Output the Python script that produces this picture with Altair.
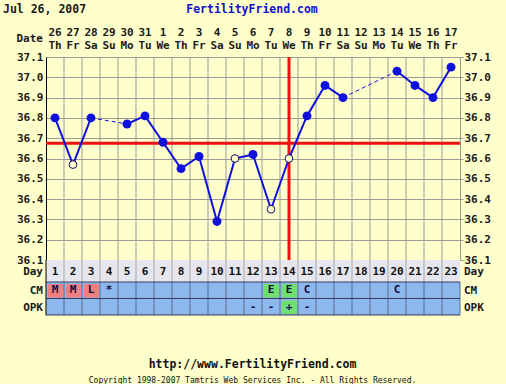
import altair as alt
import pandas as pd

# ---------------- data ----------------
days = list(range(1, 24))
dates = [26, 27, 28, 29, 30, 31, 1, 2, 3, 4, 5, 6, 7, 8, 9, 10, 11, 12, 13, 14, 15, 16, 17]
weekdays = ["Th", "Fr", "Sa", "Su", "Mo", "Tu", "We", "Th", "Fr", "Sa", "Su", "Mo",
            "Tu", "We", "Th", "Fr", "Sa", "Su", "Mo", "Tu", "We", "Th", "Fr"]
temps = [36.80, 36.57, 36.80, None, 36.77, 36.81, 36.68, 36.55, 36.61, 36.29, 36.60, 36.62,
         36.35, 36.60, 36.81, 36.96, 36.90, None, None, 37.03, 36.96, 36.90, 37.05]
open_days = [2, 11, 13, 14]
cm = ["M", "M", "L", "*", "", "", "", "", "", "", "", "", "E", "E", "C", "", "", "", "", "C", "", "", ""]
opk = ["", "", "", "", "", "", "", "", "", "", "", "-", "-", "+", "-", "", "", "", "", "", "", "", ""]
coverline = 36.675
ovulation_day = 14
y_ticks = [36.1, 36.2, 36.3, 36.4, 36.5, 36.6, 36.7, 36.8, 36.9, 37.0, 37.1]
row_names = ["Day", "CM", "OPK"]

# ---------------- styles ----------------
BG = "#FFFFCC"
BLUE = "#1010DD"
RED = "#EE1111"
FONT = "DejaVu Sans Mono"
FS = 11
W, H = 414, 203

x_lo, x_hi = days[0] - 0.5, days[-1] + 0.5
xscale = alt.Scale(domain=[x_lo, x_hi], nice=False, zero=False)
tscale = alt.Scale(domain=[y_ticks[0], y_ticks[-1]], nice=False, zero=False)
rscale = alt.Scale(domain=[0, 1, 3], range=[H, H + 22, H + 55], nice=False, zero=False)

left_axis = alt.Axis(orient="left", values=y_ticks, format=".1f", grid=True, gridColor="#9a9a9a",
                     gridWidth=1, gridOpacity=1, domain=True, domainColor="#000000", domainWidth=1,
                     ticks=False, labelPadding=3, labelFont=FONT, labelFontWeight="bold",
                     labelFontSize=FS, labelColor="#1a1a1a", title=None)
right_axis = alt.Axis(orient="right", values=y_ticks, format=".1f", grid=False, domain=True,
                      domainColor="#9a9a9a", ticks=True, tickColor="#9a9a9a", tickSize=3,
                      labelPadding=1, labelFont=FONT, labelFontWeight="bold", labelFontSize=FS,
                      labelColor="#1a1a1a", title=None)


def X(f):
    return alt.X(f, type="quantitative", scale=xscale, axis=None)


def YT(f):
    return alt.Y(f, type="quantitative", scale=tscale, axis=left_axis)


def YR(f):
    return alt.Y(f, type="quantitative", scale=rscale, axis=None)


# ---------------- tables ----------------
bounds = [d + 0.5 for d in days[:-1]]
vgrid = pd.DataFrame({"b": bounds, "lo": y_ticks[0], "hi": y_ticks[-1]})

pts = pd.DataFrame({"day": days, "t": temps})
pts = pts.dropna()
pts["open"] = pts["day"].isin(open_days)

segs = []
valid = [(d, t) for d, t in zip(days, temps) if t is not None]
for (d1, t1), (d2, t2) in zip(valid[:-1], valid[1:]):
    segs.append({"x": d1, "y": t1, "x2": d2, "y2": t2, "kind": "solid" if d2 - d1 == 1 else "gap"})
segs = pd.DataFrame(segs)

cover_df = pd.DataFrame({"xa": [x_lo], "xb": [x_hi], "y": [coverline]})
ovu_df = pd.DataFrame({"x": [ovulation_day], "lo": [y_ticks[0]], "hi": [y_ticks[-1]]})

# ---------------- plot group ----------------
grid_layer = alt.Chart(vgrid).mark_rule(color="#9a9a9a", strokeWidth=1).encode(
    x=X("b"), y=YT("lo"), y2="hi")
cover_layer = alt.Chart(cover_df).mark_rule(color=RED, strokeWidth=3).encode(
    x=X("xa"), x2="xb", y=YT("y"))
ovu_layer = alt.Chart(ovu_df).mark_rule(color=RED, strokeWidth=3).encode(
    x=X("x"), y=YT("lo"), y2="hi")
solid_layer = alt.Chart(segs).transform_filter("datum.kind == 'solid'").mark_rule(
    color=BLUE, strokeWidth=2).encode(x=X("x"), x2="x2", y=YT("y"), y2="y2")
gap_layer = alt.Chart(segs).transform_filter("datum.kind == 'gap'").mark_rule(
    color=BLUE, strokeWidth=1, strokeDash=[4, 3]).encode(x=X("x"), x2="x2", y=YT("y"), y2="y2")
filled_layer = alt.Chart(pts).transform_filter("!datum.open").mark_point(
    filled=True, color=BLUE, size=80, opacity=1, shape="circle").encode(x=X("day"), y=YT("t"))
open_layer = alt.Chart(pts).transform_filter("datum.open").mark_point(
    filled=True, fill=BG, stroke="#101070", strokeWidth=1, size=60, opacity=1,
    shape="circle").encode(x=X("day"), y=YT("t"))

plot_group = alt.layer(grid_layer, cover_layer, ovu_layer, solid_layer, gap_layer,
                       filled_layer, open_layer)

right_layer = alt.Chart(vgrid).mark_rule(opacity=0).encode(
    x=X("b"), y=alt.Y("lo", type="quantitative", scale=tscale, axis=right_axis))

# ---------------- table group ----------------
row_bg = pd.DataFrame({"xa": [x_lo, x_lo], "xb": [x_hi, x_hi], "r0": [0, 1], "r1": [1, 3],
                       "kind": ["day", "obs"]})
cells = []
for d, c, o in zip(days, cm, opk):
    if c in ("M", "L", "H"):
        cells.append({"day": d, "xa": d - 0.5, "xb": d + 0.5, "r0": 1, "r1": 2, "kind": "red"})
    elif c == "E":
        cells.append({"day": d, "xa": d - 0.5, "xb": d + 0.5, "r0": 1, "r1": 2, "kind": "green"})
    if o == "+":
        cells.append({"day": d, "xa": d - 0.5, "xb": d + 0.5, "r0": 2, "r1": 3, "kind": "green"})
cells = pd.DataFrame(cells)

color_scale = alt.Scale(domain=["day", "obs", "red", "green"],
                        range=["#E6E6EE", "#8CB8EE", "#EE8080", "#6EE06E"])

bg_layer = alt.Chart(row_bg).mark_rect().encode(
    x=X("xa"), x2="xb", y=YR("r0"), y2="r1",
    color=alt.Color("kind:N", scale=color_scale, legend=None))
cell_layer = alt.Chart(cells).mark_rect(xOffset=2, x2Offset=-1, yOffset=2, y2Offset=-1).encode(
    x=X("xa"), x2="xb", y=YR("r0"), y2="r1",
    color=alt.Color("kind:N", scale=color_scale, legend=None))

sep_day = pd.DataFrame({"b": bounds, "r0": 0, "r1": 1})
sep_obs = pd.DataFrame({"b": bounds + [x_hi], "r0": 1, "r1": 3})
sep_day_layer = alt.Chart(sep_day).mark_rule(color="#a8a8a8", strokeWidth=1).encode(
    x=X("b"), y=YR("r0"), y2="r1")
sep_obs_layer = alt.Chart(sep_obs).mark_rule(color="#5a6a90", strokeWidth=1).encode(
    x=X("b"), y=YR("r0"), y2="r1")
hlines = pd.DataFrame({"xa": x_lo, "xb": x_hi, "r": [1, 2, 3]})
hline_layer = alt.Chart(hlines).mark_rule(color="#3a3a5a", strokeWidth=1).encode(
    x=X("xa"), x2="xb", y=YR("r"))
left_border = alt.Chart(pd.DataFrame({"x": [x_lo], "r0": [0], "r1": [3]})).mark_rule(
    color="#000000", strokeWidth=1).encode(x=X("x"), y=YR("r0"), y2="r1")

txt = dict(font=FONT, fontWeight="bold", fontSize=FS, baseline="middle")
day_txt = pd.DataFrame({"day": days, "lab": [str(d) for d in days], "r": 0.5})
cm_txt = pd.DataFrame({"day": days, "lab": cm, "r": 1.5})
opk_txt = pd.DataFrame({"day": days, "lab": opk, "r": 2.5})
day_txt_layer = alt.Chart(day_txt).mark_text(color="#111111", dy=1, **txt).encode(
    x=X("day"), y=YR("r"), text="lab:N")
cm_txt_layer = alt.Chart(cm_txt).mark_text(color="#101040", **txt).encode(
    x=X("day"), y=YR("r"), text="lab:N")
opk_txt_layer = alt.Chart(opk_txt).mark_text(color="#101040", **txt).encode(
    x=X("day"), y=YR("r"), text="lab:N")

rows = pd.DataFrame({"lab": row_names, "r": [0.5, 1.5, 2.5]})
row_left = alt.Chart(rows).mark_text(align="right", color="#1a1a1a", dy=1, **txt).encode(
    x=alt.value(-3), y=YR("r"), text="lab:N")
row_right = alt.Chart(rows).mark_text(align="left", color="#1a1a1a", dy=1, **txt).encode(
    x=alt.value(W + 4), y=YR("r"), text="lab:N")

table_group = alt.layer(bg_layer, sep_day_layer, sep_obs_layer, hline_layer, cell_layer,
                        left_border, day_txt_layer, cm_txt_layer, opk_txt_layer,
                        row_left, row_right)

# ---------------- header / footer texts ----------------
hdr = pd.DataFrame({"day": days, "date": [str(d) for d in dates], "wd": weekdays})
date_layer = alt.Chart(hdr).mark_text(color="#1a1a1a", **txt).encode(
    x=X("day"), y=alt.value(-24), text="date:N")
wd_layer = alt.Chart(hdr).mark_text(color="#1a1a1a", **txt).encode(
    x=X("day"), y=alt.value(-11), text="wd:N")
one = pd.DataFrame({"a": [0]})
date_lbl = alt.Chart(one).mark_text(text="Date", align="right", color="#1a1a1a", **txt).encode(
    x=alt.value(-3), y=alt.value(-18))
title_l = alt.Chart(one).mark_text(text="Jul 26, 2007", align="left", color="#1a1a1a",
                                   font=FONT, fontWeight="bold", fontSize=11.5,
                                   baseline="middle").encode(x=alt.value(-43), y=alt.value(-47))
title_c = alt.Chart(one).mark_text(text="FertilityFriend.com", align="center", color="#1010CC",
                                   font=FONT, fontWeight="bold", fontSize=11.5,
                                   baseline="middle").encode(x=alt.value(206), y=alt.value(-47))
foot1 = alt.Chart(one).mark_text(text="http://www.FertilityFriend.com", align="center",
                                 color="#111111", font=FONT, fontWeight="bold", fontSize=11.5,
                                 baseline="middle").encode(x=alt.value(206.5), y=alt.value(308))
foot2 = alt.Chart(one).mark_text(
    text="Copyright 1998-2007 Tamtris Web Services Inc. - All Rights Reserved.", align="center",
    color="#111111", font=FONT, fontSize=8, baseline="middle").encode(
    x=alt.value(206.5), y=alt.value(323.5))

chart = alt.layer(
    table_group, plot_group, right_layer,
    date_layer, wd_layer, date_lbl, title_l, title_c, foot1, foot2
).resolve_scale(y="independent").properties(
    width=W, height=H,
    autosize=alt.AutoSizeParams(type="none"),
    padding={"left": 46, "top": 57, "right": 46, "bottom": 124},
    background=BG,
).configure_view(stroke=None)

chart.save("out.html", embed_options={"renderer": "svg", "actions": False})
